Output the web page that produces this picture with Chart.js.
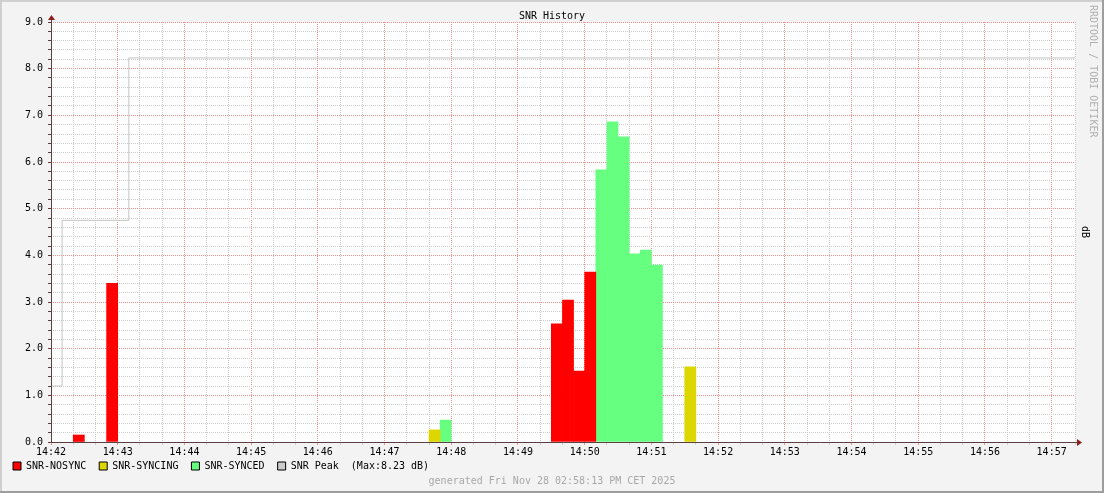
<!DOCTYPE html>
<html>
<head>
<meta charset="utf-8">
<title>SNR History</title>
<script src="https://cdn.jsdelivr.net/npm/chart.js@4.4.1/dist/chart.umd.min.js"></script>
<style>
  html, body { margin: 0; padding: 0; background: #f3f3f3; }
  canvas { display: block; }
</style>
</head>
<body>
<canvas id="snrChart" width="1104" height="493"></canvas>
<script>
// temps en secondes depuis 14:42:00, un pas RRD = 10 s (x = milieu du pas)
const nosyncTimes = [25, 55, 455, 465, 475, 485];
const nosyncValues = [0.15, 3.40, 2.53, 3.04, 1.52, 3.64];

const syncingTimes = [345, 575];
const syncingValues = [0.26, 1.61];

const syncedTimes = [355, 495, 505, 515, 525, 535, 545];
const syncedValues = [0.47, 5.83, 6.86, 6.54, 4.03, 4.11, 3.79];

const peakTimes = [0, 10, 70, 921];
const peakValues = [1.20, 4.75, 8.23, 8.23];

const xTickLabels = ['14:42', '14:43', '14:44', '14:45', '14:46', '14:47', '14:48', '14:49',
                     '14:50', '14:51', '14:52', '14:53', '14:54', '14:55', '14:56', '14:57'];
const yTickLabels = ['0.0', '1.0', '2.0', '3.0', '4.0', '5.0', '6.0', '7.0', '8.0', '9.0'];

const MONO = "'DejaVu Sans Mono', 'Liberation Mono', monospace";
const minorGrid = '#cdcdcd';
const majorGrid = '#f29090';
const axisColor = '#5a4040';
const arrowColor = '#8a1f1f';

const toPoints = (xs, ys) => xs.map((x, i) => ({ x: x, y: ys[i] }));
const isInt = v => Math.abs(v - Math.round(v)) < 1e-6;

const peakMax = Math.max(...peakValues).toFixed(2);

// fond, cadre, flèches des axes, filigrane et pied de page
const rrdFrame = {
    id: 'rrdFrame',
    afterLayout(chart) {
        // la légende remonte juste sous les libellés de l'axe x
        const lg = chart.legend;
        if (!lg) return;
        const shift = lg.top - (chart.chartArea.bottom + 6);
        lg.top -= shift;
        lg.bottom -= shift;
    },
    beforeDraw(chart) {
        const { ctx, chartArea: a, width, height } = chart;
        ctx.save();
        ctx.fillStyle = '#f3f3f3';
        ctx.fillRect(0, 0, width, height);
        ctx.fillStyle = '#ffffff';
        ctx.fillRect(a.left, a.top, a.right - a.left, a.bottom - a.top);
        ctx.restore();
    },
    afterDraw(chart) {
        const { ctx, chartArea: a, width, height } = chart;
        ctx.save();

        // axes
        ctx.strokeStyle = axisColor;
        ctx.lineWidth = 1;
        ctx.beginPath();
        ctx.moveTo(a.left + 0.5, a.bottom + 1);
        ctx.lineTo(a.left + 0.5, a.top - 3);
        ctx.moveTo(a.left - 1, a.bottom + 0.5);
        ctx.lineTo(a.right + 2, a.bottom + 0.5);
        ctx.stroke();

        ctx.fillStyle = arrowColor;
        ctx.beginPath();
        ctx.moveTo(a.left + 0.5, a.top - 7);
        ctx.lineTo(a.left - 3, a.top - 2);
        ctx.lineTo(a.left + 4, a.top - 2);
        ctx.closePath();
        ctx.fill();
        ctx.beginPath();
        ctx.moveTo(a.right + 7, a.bottom + 0.5);
        ctx.lineTo(a.right + 2, a.bottom - 3);
        ctx.lineTo(a.right + 2, a.bottom + 4);
        ctx.closePath();
        ctx.fill();

        // pied de page
        ctx.font = '10px ' + MONO;
        ctx.fillStyle = '#a8a8a8';
        ctx.textAlign = 'center';
        ctx.textBaseline = 'middle';
        ctx.fillText('generated Fri Nov 28 02:58:13 PM CET 2025', width / 2, 481);

        // filigrane vertical
        ctx.save();
        ctx.translate(1093, 5);
        ctx.rotate(Math.PI / 2);
        ctx.textAlign = 'left';
        ctx.fillStyle = '#b0b0b0';
        ctx.fillText('RRDTOOL / TOBI OETIKER', 0, 0);
        ctx.restore();

        // cadre
        ctx.fillStyle = '#cfcfcf';
        ctx.fillRect(0, 0, width, 2);
        ctx.fillRect(0, 0, 2, height);
        ctx.fillStyle = '#9e9e9e';
        ctx.fillRect(0, height - 2, width, 2);
        ctx.fillRect(width - 2, 0, 2, height);

        ctx.restore();
    }
};

const ctx = document.getElementById('snrChart');

new Chart(ctx, {
    type: 'bar',
    data: {
        datasets: [
            {
                label: 'SNR-NOSYNC',
                data: toPoints(nosyncTimes, nosyncValues),
                backgroundColor: '#ff0000',
                borderWidth: 0
            },
            {
                label: 'SNR-SYNCING',
                data: toPoints(syncingTimes, syncingValues),
                backgroundColor: '#ddd600',
                borderWidth: 0
            },
            {
                label: 'SNR-SYNCED',
                data: toPoints(syncedTimes, syncedValues),
                backgroundColor: '#66ff80',
                borderWidth: 0
            },
            {
                type: 'line',
                label: 'SNR Peak  (Max:' + peakMax + ' dB)',
                data: toPoints(peakTimes, peakValues),
                borderColor: '#c4c4c4',
                backgroundColor: '#cccccc',
                borderWidth: 1,
                stepped: true,
                pointRadius: 0,
                fill: false
            }
        ]
    },
    options: {
        responsive: false,
        animation: false,
        events: [],
        grouped: false,
        categoryPercentage: 1.0,
        barPercentage: 1.0,
        layout: { padding: { left: 0, right: 0, top: 0, bottom: 3 } },
        scales: {
            x: {
                type: 'linear',
                min: 0,
                max: 921,
                offset: false,
                afterFit: scale => { scale.height = 15; },
                ticks: {
                    stepSize: 20,
                    autoSkip: false,
                    maxRotation: 0,
                    padding: 1,
                    color: '#000000',
                    font: { family: MONO, size: 10 },
                    callback: v => (v % 60 === 0 ? xTickLabels[v / 60] : '')
                },
                grid: {
                    offset: false,
                    color: c => (c.tick && c.tick.value % 60 === 0 ? majorGrid : minorGrid),
                    tickLength: 3,
                    tickColor: c => (c.tick && c.tick.value % 60 === 0 ? majorGrid : minorGrid),
                    tickBorderDash: []
                },
                border: { display: false, dash: [1, 1] }
            },
            y: {
                type: 'linear',
                position: 'left',
                min: 0,
                max: 9,
                afterFit: scale => { scale.width = 51; },
                ticks: {
                    stepSize: 0.2,
                    autoSkip: false,
                    padding: 5,
                    color: '#000000',
                    font: { family: MONO, size: 10 },
                    callback: v => (isInt(v) ? yTickLabels[Math.round(v)] : '')
                },
                grid: {
                    color: c => (c.tick && isInt(c.tick.value) ? majorGrid : minorGrid),
                    tickLength: 3,
                    tickColor: axisColor,
                    tickBorderDash: []
                },
                border: { display: false, dash: [1, 1] }
            },
            y2: {
                type: 'linear',
                position: 'right',
                min: 0,
                max: 9,
                afterFit: scale => { scale.width = 29; },
                ticks: { display: false },
                grid: { display: false },
                border: { display: false },
                title: {
                    display: true,
                    text: 'dB',
                    color: '#000000',
                    font: { family: MONO, size: 10 },
                    padding: { top: 13, bottom: 0 }
                }
            }
        },
        plugins: {
            title: {
                display: true,
                text: 'SNR History',
                color: '#000000',
                font: { family: MONO, size: 10, weight: 'normal' },
                padding: { top: 10, bottom: 0 }
            },
            legend: {
                position: 'bottom',
                align: 'start',
                labels: {
                    boxWidth: 8,
                    boxHeight: 8,
                    padding: 13,
                    color: '#000000',
                    font: { family: MONO, size: 10 },
                    generateLabels: chart => chart.data.datasets.map((ds, i) => ({
                        text: ds.label,
                        fillStyle: ds.backgroundColor,
                        strokeStyle: '#000000',
                        lineWidth: 1,
                        hidden: false,
                        datasetIndex: i
                    }))
                }
            },
            tooltip: { enabled: false }
        }
    },
    plugins: [rrdFrame]
});
</script>
</body>
</html>
